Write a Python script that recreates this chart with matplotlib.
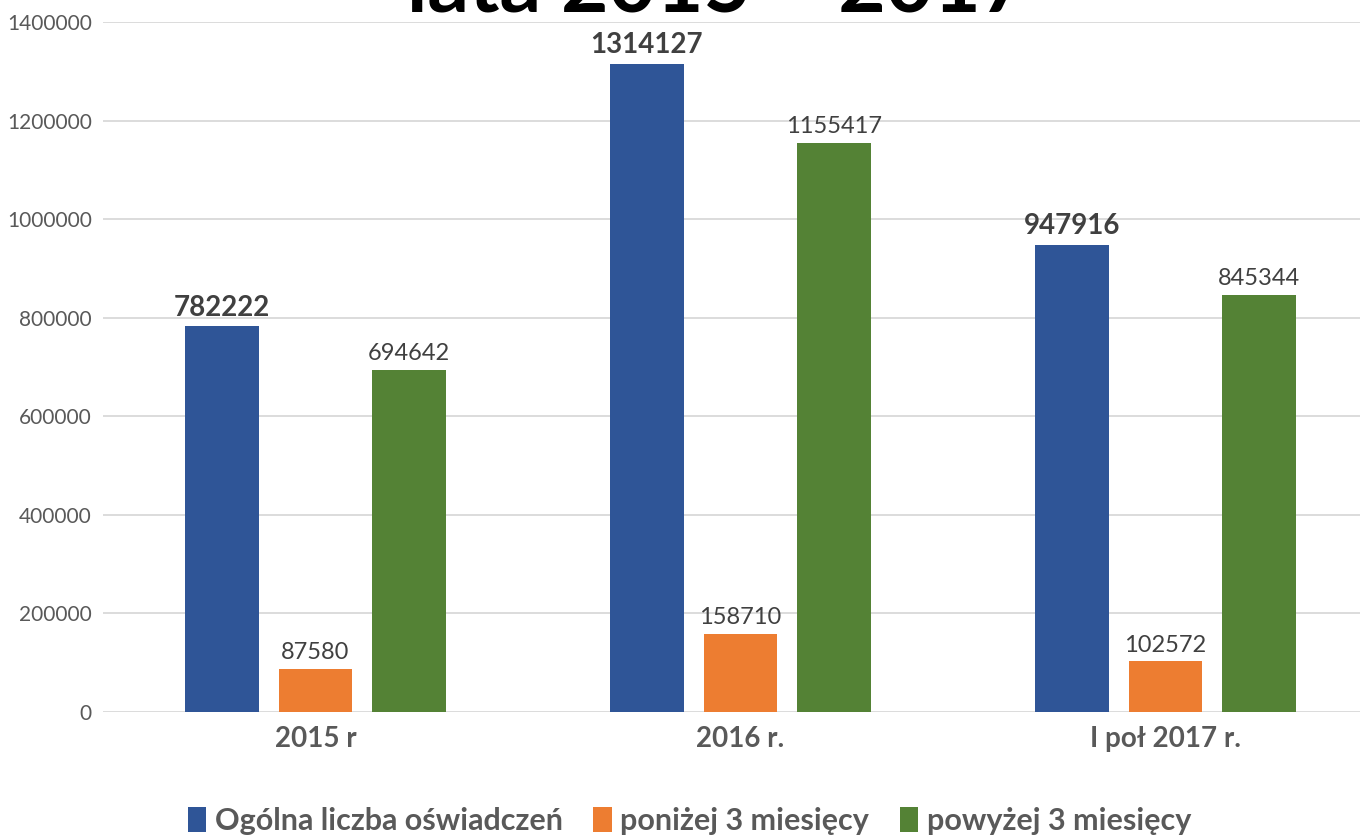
import numpy as np
import matplotlib.pyplot as plt

plt.rcParams['font.family'] = ['Lato', 'DejaVu Sans']

categories = ["2015 r", "2016 r.", "I poł 2017 r."]
series_names = ["Ogólna liczba oświadczeń", "poniżej 3 miesięcy", "powyżej 3 miesięcy"]
ogolna = [782222, 1314127, 947916]
ponizej = [87580, 158710, 102572]
powyzej = [694642, 1155417, 845344]
colors = ["#2F5597", "#ED7D31", "#548235"]

fig = plt.figure(figsize=(13.6, 8.36), dpi=100)
ax = fig.add_axes([103 / 1360, 1 - 712 / 836, 1257 / 1360, 690 / 836])

x = np.arange(len(categories))
width = 0.174
step = 0.22

all_series = [ogolna, ponizej, powyzej]
for i, (vals, name, col) in enumerate(zip(all_series, series_names, colors)):
    pos = x + (i - 1) * step
    ax.bar(pos, vals, width=width, color=col, label=name, zorder=3)
    for p, v in zip(pos, vals):
        if i == 0:
            ax.text(p, v + 12000, str(v), ha="center", va="bottom",
                    fontsize=20, fontweight="bold", color="#404040")
        else:
            ax.text(p, v + 12000, str(v), ha="center", va="bottom",
                    fontsize=17, color="#404040")

ax.set_xlim(-0.5, -0.5 + 1257 / 425)
ax.set_ylim(0, 1400000)
ax.set_yticks(np.arange(0, 1400001, 200000))
ax.set_yticklabels([str(t) for t in range(0, 1400001, 200000)], fontsize=15, color="#595959")
ax.set_xticks(x)
ax.set_xticklabels(categories, fontsize=20, fontweight="bold", color="#595959")
ax.tick_params(axis="both", length=0)
ax.tick_params(axis="x", pad=10)
ax.tick_params(axis="y", pad=8)
ax.grid(axis="y", color="#d9d9d9", linewidth=1.3, zorder=0)
for s in ["top", "right", "left", "bottom"]:
    ax.spines[s].set_visible(False)

# title is cut off at the top edge in the original
fig.text(0.528, 1 - 12 / 836, "lata 2015 – 2017", ha="center", va="baseline",
         fontsize=59, fontweight="bold", color="black")

leg = fig.legend(loc="lower center", bbox_to_anchor=(0.507, -0.032), ncol=3, frameon=False,
                 handlelength=0.6, handleheight=0.9, handletextpad=0.28, columnspacing=1.0,
                 prop={"size": 22, "weight": "bold"})
for t in leg.get_texts():
    t.set_color("#595959")

fig.savefig("out.png", dpi=100)
